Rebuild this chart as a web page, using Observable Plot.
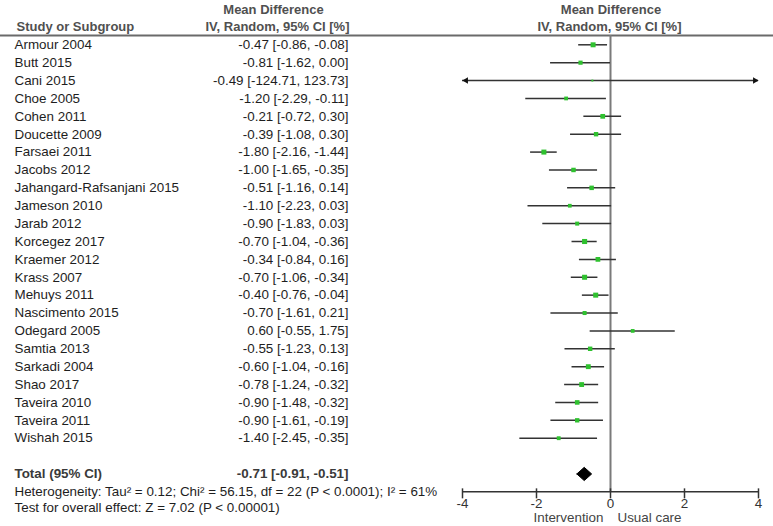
<!DOCTYPE html>
<html><head><meta charset="utf-8">
<script src="https://cdn.jsdelivr.net/npm/d3@7"></script>
<script src="https://cdn.jsdelivr.net/npm/@observablehq/plot@0.6"></script>
<style>html,body{margin:0;padding:0;background:#fff}</style>
</head><body><div id="chart"></div>
<script>
const studies = ["Armour 2004","Butt 2015","Cani 2015","Choe 2005","Cohen 2011","Doucette 2009","Farsaei 2011","Jacobs 2012","Jahangard-Rafsanjani 2015","Jameson 2010","Jarab 2012","Korcegez 2017","Kraemer 2012","Krass 2007","Mehuys 2011","Nascimento 2015","Odegard 2005","Samtia 2013","Sarkadi 2004","Shao 2017","Taveira 2010","Taveira 2011","Wishah 2015"];
const estimates = [-0.47,-0.81,-0.49,-1.20,-0.21,-0.39,-1.80,-1.00,-0.51,-1.10,-0.90,-0.70,-0.34,-0.70,-0.40,-0.70,0.60,-0.55,-0.60,-0.78,-0.90,-0.90,-1.40];
const lower = [-0.86,-1.62,-124.71,-2.29,-0.72,-1.08,-2.16,-1.65,-1.16,-2.23,-1.83,-1.04,-0.84,-1.06,-0.76,-1.61,-0.55,-1.23,-1.04,-1.24,-1.48,-1.61,-2.45];
const upper = [-0.08,0.00,123.73,-0.11,0.30,0.30,-1.44,-0.35,0.14,0.03,0.03,-0.36,0.16,-0.34,-0.04,0.21,1.75,0.13,-0.16,-0.32,-0.32,-0.19,-0.35];
const weights = [6.3,3.4,0.0,2.3,5.3,4.1,6.5,4.4,4.4,2.2,2.9,6.7,5.4,6.5,6.5,3.0,2.2,4.2,5.9,5.7,4.8,4.0,2.5];
const totalLabel = "Total (95% CI)";
const totalEstimate = -0.71, totalLower = -0.91, totalUpper = -0.51;
const heterogeneityText = "Heterogeneity: Tau\u00b2 = 0.12; Chi\u00b2 = 56.15, df = 22 (P < 0.0001); I\u00b2 = 61%";
const overallText = "Test for overall effect: Z = 7.02 (P < 0.00001)";
const studyHeader = "Study or Subgroup";
const effectHeader = ["Mean Difference", "IV, Random, 95% CI [%]"];
const xTicks = [-4, -2, 0, 2, 4];
const favourLeft = "Intervention", favourRight = "Usual care";

const fmt = (v) => v.toFixed(2);
const rows = studies.map((s, i) => ({study: s, est: estimates[i], lo: lower[i], hi: upper[i], w: weights[i], row: i,
  label: `${fmt(estimates[i])} [${fmt(lower[i])}, ${fmt(upper[i])}]`}));

const totalRow = studies.length + 1;
const hetRow = totalRow + 1;
const testRow = totalRow + 1.9;
const favourRow = totalRow + 2.45;
const axisRow = totalRow + 1;
const headRow1 = -1.95, headRow2 = -1, headLineRow = -0.52;
const half = 0.37;
const diamond = [
  {x: totalLower, y: totalRow}, {x: totalEstimate, y: totalRow - half},
  {x: totalUpper, y: totalRow}, {x: totalEstimate, y: totalRow + half}, {x: totalLower, y: totalRow}
];
const xMin = xTicks[0], xMax = xTicks[xTicks.length - 1];
const textCol = "#1e1e1e", headCol = "#505050", green = "#2fc12f";
const colName = -448, colEst = -114;
const numSpacing = "0.45px";
const headFont = 13;

const plot = Plot.plot({
  width: 773, height: 526,
  marginLeft: 462, marginRight: 15, marginTop: 0, marginBottom: 35,
  style: {fontFamily: "'Liberation Sans', Arial, sans-serif", fontSize: "13.4px", background: "#fff"},
  x: {domain: [xMin, xMax]},
  y: {domain: [0, studies.length - 1], range: [44.3, 437.7], axis: null},
  r: {type: "sqrt", domain: [0, 7], range: [1.1, 2.9]},
  marks: [
    Plot.ruleY([headLineRow], {x1: xMin - 462 / 37, x2: xMax + 15 / 37, stroke: "#6a6a6a", strokeWidth: 2}),
    Plot.ruleX([0], {y1: headLineRow, y2: axisRow, stroke: "#7a7a7a", strokeWidth: 2}),
    Plot.ruleY([axisRow], {x1: xMin, x2: xMax, stroke: "#333", strokeWidth: 1.5}),
    Plot.ruleX(xTicks, {x: (d) => d, y1: axisRow, y2: axisRow, insetTop: -3, insetBottom: -7, stroke: "#333", strokeWidth: 1.5}),
    Plot.axisX({anchor: "bottom", ticks: xTicks, tickFormat: (d) => String(d), tickSize: 0, tickPadding: 7, label: null, fontSize: 13.4, fill: "#333", letterSpacing: "1px"}),
    Plot.ruleY(rows, {y: "row", x1: (d) => Math.max(d.lo, xMin), x2: (d) => Math.min(d.hi, xMax), stroke: "#333", strokeWidth: 1.5}),
    Plot.dot(rows.filter((d) => d.lo < xMin), {x: () => xMin, y: "row", symbol: "triangle", rotate: -90, r: 2.4, dx: 3.6, fill: "#111", stroke: "none"}),
    Plot.dot(rows.filter((d) => d.hi > xMax), {x: () => xMax, y: "row", symbol: "triangle", rotate: 90, r: 2.4, dx: -3.6, fill: "#111", stroke: "none"}),
    Plot.dot(rows, {x: "est", y: "row", r: "w", symbol: "square", fill: green, stroke: "none"}),
    Plot.line(diamond, {x: "x", y: "y", fill: "#000", stroke: "#000", strokeWidth: 1, curve: "linear"}),
    Plot.text(rows, {y: "row", text: "study", frameAnchor: "left", dx: colName, textAnchor: "start", fill: textCol}),
    Plot.text(rows, {y: "row", text: "label", frameAnchor: "left", dx: colEst, textAnchor: "end", fill: textCol, letterSpacing: numSpacing}),
    Plot.text([studyHeader], {y: () => headRow2, text: (d) => d, frameAnchor: "left", dx: colName + 2, textAnchor: "start", fill: headCol, fontWeight: "bold", fontSize: headFont}),
    Plot.text([effectHeader[0]], {y: () => headRow1, text: (d) => d, frameAnchor: "left", dx: -189, textAnchor: "middle", fill: headCol, fontWeight: "bold", fontSize: headFont}),
    Plot.text([effectHeader[1]], {y: () => headRow2, text: (d) => d, frameAnchor: "left", dx: -185, textAnchor: "middle", fill: headCol, fontWeight: "bold", fontSize: headFont}),
    Plot.text([effectHeader[0]], {y: () => headRow1, text: (d) => d, frameAnchor: "left", dx: 148.5, textAnchor: "middle", fill: headCol, fontWeight: "bold", fontSize: headFont}),
    Plot.text([effectHeader[1]], {y: () => headRow2, text: (d) => d, frameAnchor: "left", dx: 147, textAnchor: "middle", fill: headCol, fontWeight: "bold", fontSize: headFont}),
    Plot.text([totalLabel], {y: () => totalRow, text: (d) => d, frameAnchor: "left", dx: colName, textAnchor: "start", fill: "#3a3a3a", fontWeight: "bold"}),
    Plot.text([`${fmt(totalEstimate)} [${fmt(totalLower)}, ${fmt(totalUpper)}]`], {y: () => totalRow, text: (d) => d, frameAnchor: "left", dx: colEst, textAnchor: "end", fill: "#3a3a3a", fontWeight: "bold", letterSpacing: numSpacing}),
    Plot.text([heterogeneityText], {y: () => hetRow, text: (d) => d, frameAnchor: "left", dx: colName, textAnchor: "start", fill: textCol}),
    Plot.text([overallText], {y: () => testRow, text: (d) => d, frameAnchor: "left", dx: colName, textAnchor: "start", fill: textCol}),
    Plot.text([favourLeft], {x: () => 0, y: () => favourRow, text: (d) => d, dx: -7, textAnchor: "end", fill: "#444"}),
    Plot.text([favourRight], {x: () => 0, y: () => favourRow, text: (d) => d, dx: 7, textAnchor: "start", fill: "#444"})
  ]
});
document.getElementById("chart").append(plot);
</script>
</body></html>
